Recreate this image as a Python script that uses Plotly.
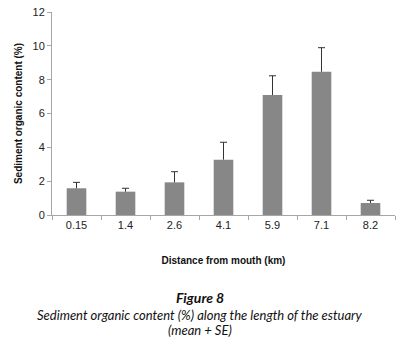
import plotly.graph_objects as go

categories = ["0.15", "1.4", "2.6", "4.1", "5.9", "7.1", "8.2"]
mean_values = [1.58, 1.38, 1.93, 3.27, 7.09, 8.47, 0.71]
se_values = [0.35, 0.20, 0.63, 1.03, 1.14, 1.42, 0.16]
y_ticks = [0, 2, 4, 6, 8, 10, 12]

tops = [m + s for m, s in zip(mean_values, se_values)]

fig = go.Figure()
fig.add_trace(go.Bar(
    x=categories, y=mean_values, width=0.4,
    marker=dict(color="#878787", line=dict(width=0)),
    error_y=dict(type="data", symmetric=False, array=se_values,
                 arrayminus=[0] * len(se_values), color="#333333",
                 thickness=1, width=0),
    showlegend=False,
))
fig.add_trace(go.Scatter(
    x=categories, y=tops, mode="markers",
    marker=dict(symbol="line-ew", size=5, line=dict(color="#333333", width=1)),
    showlegend=False, hoverinfo="skip",
))

axis_font = dict(family="Liberation Sans, Arial, sans-serif", size=11, color="#222222")
title_font = dict(family="Liberation Sans, Arial, sans-serif", size=10, color="#111111")
cap_x = (200 - 52) / 343
fig.update_layout(
    width=402, height=337,
    margin=dict(l=52, r=7, t=12, b=122),
    paper_bgcolor="white", plot_bgcolor="white",
    xaxis=dict(
        type="category", showline=True, linecolor="#a6a6a6", linewidth=1,
        ticks="outside", tickson="boundaries", ticklen=4, tickcolor="#a6a6a6",
        tickfont=axis_font, showgrid=False, zeroline=False,
        title=dict(text="<b>Distance from mouth (km)</b>", font=title_font, standoff=26),
    ),
    yaxis=dict(
        range=[0, 12], tickvals=y_ticks, showline=True, linecolor="#a6a6a6", linewidth=1,
        ticks="outside", ticklen=4, tickcolor="#a6a6a6", tickfont=axis_font,
        showgrid=False, zeroline=False,
        title=dict(text="<b>Sediment organic content (%)</b>", font=title_font, standoff=8),
    ),
    annotations=[
        dict(text="<b><i>Figure 8</i></b>", xref="paper", yref="paper",
             x=cap_x, y=(215 - 297) / 203, showarrow=False, xanchor="center", yanchor="middle",
             font=dict(family="Lato, Open Sans, sans-serif", size=14, color="#111111")),
        dict(text="<i>Sediment organic content (%) along the length of the estuary</i>",
             xref="paper", yref="paper",
             x=cap_x, y=(215 - 315) / 203, showarrow=False, xanchor="center", yanchor="middle",
             font=dict(family="Lato, Open Sans, sans-serif", size=13, color="#111111")),
        dict(text="<i>(mean + SE)</i>", xref="paper", yref="paper",
             x=cap_x, y=(215 - 330) / 203, showarrow=False, xanchor="center", yanchor="middle",
             font=dict(family="Lato, Open Sans, sans-serif", size=13, color="#111111")),
    ],
)

fig.write_html("out.html", config={"displayModeBar": False},
               post_script="document.body.style.margin='0';")
